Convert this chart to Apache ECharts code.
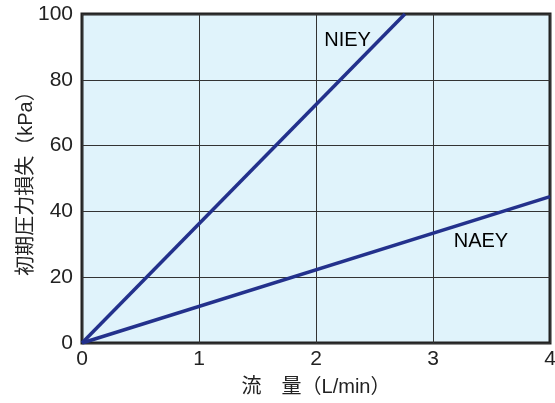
<!DOCTYPE html>
<html><head><meta charset="utf-8">
<script src="https://cdn.jsdelivr.net/npm/echarts@6/dist/echarts.min.js"></script>
<style>html,body{margin:0;padding:0;background:#fff}#c{width:555px;height:403px}</style>
</head><body><div id="c"></div>
<script>
const xTicks = [0, 1, 2, 3, 4];
const yTicks = [0, 20, 40, 60, 80, 100];
const seriesNames = ['NIEY', 'NAEY'];
const nieyData = [[0, 0], [2.76, 100]];
const naeyData = [[0, 0], [4, 44.5]];
const labelPos = [[2.27, 92], [3.41, 31]];

const chart = echarts.init(document.getElementById('c'));
const font = 'Liberation Sans, Arial, sans-serif';
const cjk = 'Liberation Sans, "Noto Sans CJK JP", sans-serif';
const lineColor = '#23318c';
chart.setOption({
  animation: false,
  grid: { left: 82, right: 5, top: 14, bottom: 60, outerBoundsMode: 'none', containLabel: false, show: true, backgroundColor: '#e0f3fb', borderColor: '#222', borderWidth: 3 },
  xAxis: {
    type: 'value', min: 0, max: 4, interval: 1,
    name: '流　量（L/min）', nameLocation: 'middle', nameGap: 34, nameMoveOverlap: false,
    nameTextStyle: { fontSize: 20, color: '#222', fontFamily: cjk },
    axisLine: { show: false }, axisTick: { show: false },
    axisLabel: { fontSize: 21, color: '#222', fontFamily: font, margin: 6 },
    splitLine: { lineStyle: { color: '#333', width: 1 } }
  },
  yAxis: {
    type: 'value', min: 0, max: 100, interval: 20,
    name: '初期圧力損失（kPa）', nameLocation: 'middle', nameGap: 46, nameMoveOverlap: false,
    nameTextStyle: { fontSize: 20, color: '#222', fontFamily: cjk },
    axisLine: { show: false }, axisTick: { show: false },
    axisLabel: { fontSize: 21, color: '#222', fontFamily: font, margin: 9 },
    splitLine: { lineStyle: { color: '#333', width: 1 } }
  },
  series: [
    { name: seriesNames[0], type: 'line', data: nieyData, symbol: 'none', lineStyle: { color: lineColor, width: 3.5 } },
    { name: seriesNames[1], type: 'line', data: naeyData, symbol: 'none', lineStyle: { color: lineColor, width: 3.5 } },
    { type: 'scatter', symbolSize: 0, silent: true, itemStyle: { color: '#000', opacity: 1 },
      data: seriesNames.map((n, i) => ({ value: labelPos[i], name: n })),
      label: { show: true, position: 'inside', formatter: '{b}', fontSize: 20, color: '#000', opacity: 1, textBorderWidth: 0, fontFamily: font } }
  ]
});
</script></body></html>
